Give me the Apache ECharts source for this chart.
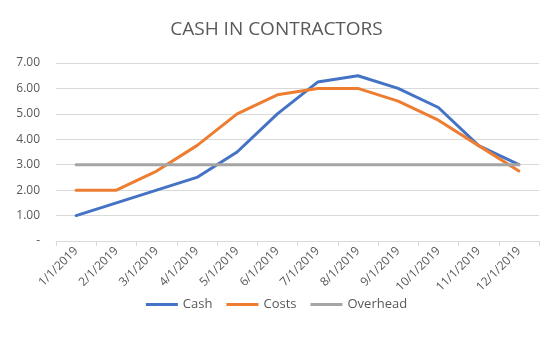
<!DOCTYPE html>
<html><head><meta charset="utf-8">
<script src="https://cdn.jsdelivr.net/npm/echarts@6/dist/echarts.min.js"></script>
<style>html,body{margin:0;padding:0;background:#fff}#c{width:553px;height:358px}</style>
</head><body><div id="c"></div>
<script>
const categories = ['1/1/2019','2/1/2019','3/1/2019','4/1/2019','5/1/2019','6/1/2019','7/1/2019','8/1/2019','9/1/2019','10/1/2019','11/1/2019','12/1/2019'];
const cash = [1, 1.5, 2, 2.5, 3.5, 5, 6.25, 6.5, 6, 5.25, 3.75, 3];
const costs = [2, 2, 2.75, 3.75, 5, 5.75, 6, 6, 5.5, 4.75, 3.75, 2.75];
const overhead = [3, 3, 3, 3, 3, 3, 3, 3, 3, 3, 3, 3];
const font = 'Open Sans, Liberation Sans, sans-serif';
const chart = echarts.init(document.getElementById('c'));
const mk = (name, data, color) => ({
  name, type: 'line', data, symbol: 'none', smooth: false,
  lineStyle: {width: 3, color, cap: 'round', join: 'round'}, itemStyle: {color}
});
chart.setOption({
  animation: false,
  title: {text: 'CASH IN CONTRACTORS', left: 'center', top: 15,
    textStyle: {fontFamily: font, fontSize: 19, fontWeight: 'normal', color: '#595959'}},
  legend: {bottom: 42, left: 'center', itemWidth: 32, itemHeight: 3, itemGap: 14,
    icon: 'rect',
    textStyle: {fontFamily: font, fontSize: 13, color: '#595959'},
    data: ['Cash', 'Costs', 'Overhead']},
  grid: {left: 56, right: 14, top: 63, bottom: 117, containLabel: false},
  xAxis: {type: 'category', data: categories, boundaryGap: true,
    axisLine: {lineStyle: {color: '#d9d9d9'}},
    axisTick: {show: true, length: 5, lineStyle: {color: '#d9d9d9'}},
    axisLabel: {rotate: 45, interval: 0, fontFamily: font, fontSize: 12, color: '#595959', margin: 8}},
  yAxis: {type: 'value', min: 0, max: 7, interval: 1,
    axisLine: {show: false}, axisTick: {show: false},
    splitLine: {lineStyle: {color: '#d9d9d9'}},
    axisLabel: {fontFamily: font, fontSize: 12, color: '#595959', margin: 16,
      formatter: v => v === 0 ? '-' : v.toFixed(2)}},
  series: [mk('Cash', cash, '#4472C4'), mk('Costs', costs, '#ED7D31'), mk('Overhead', overhead, '#A5A5A5')]
});
</script></body></html>
